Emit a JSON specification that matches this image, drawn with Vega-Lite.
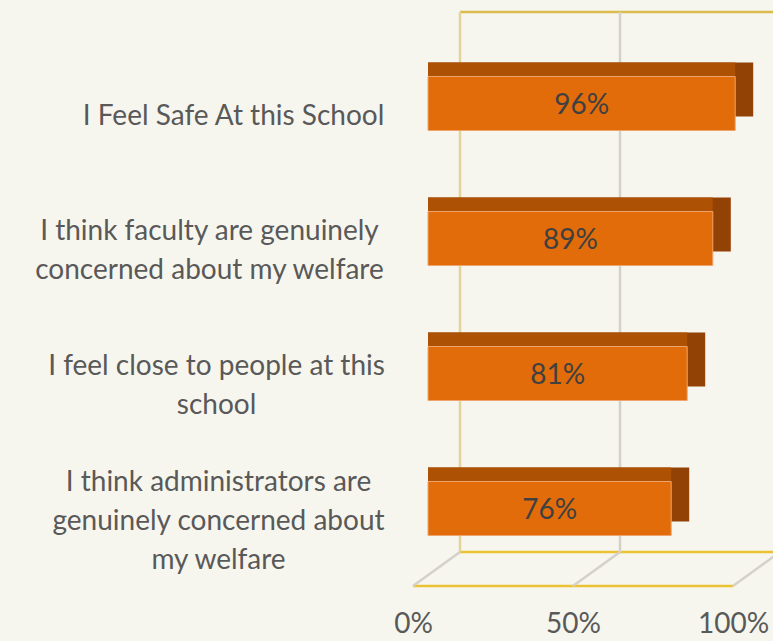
{
  "$schema": "https://vega.github.io/schema/vega-lite/v6.json",
  "width": 320,
  "height": 540,
  "autosize": "none",
  "padding": {"left": 428, "top": 36, "right": 25, "bottom": 65},
  "background": "#f7f6ee",
  "config": {"view": {"stroke": null}},
  "resolve": {"scale": {"y": "independent"}},
  "layer": [
    {
      "data": {"values": [
        {"x": 0.1, "y": 0, "x2": 1.1, "y2": 0, "kind": "gold"},
        {"x": -0.047, "y": -6.3, "x2": 0.953, "y2": -6.3, "kind": "gold"},
        {"x": 0.1, "y": 100, "x2": 1.1, "y2": 100, "kind": "top"},
        {"x": 0.1, "y": 0, "x2": 0.1, "y2": 100, "kind": "wall"},
        {"x": 0.6, "y": 0, "x2": 0.6, "y2": 100, "kind": "grid"},
        {"x": 0.1, "y": 0, "x2": -0.047, "y2": -6.3, "kind": "grid"},
        {"x": 0.6, "y": 0, "x2": 0.453, "y2": -6.3, "kind": "grid"},
        {"x": 1.1, "y": 0, "x2": 0.953, "y2": -6.3, "kind": "grid"}
      ]},
      "mark": {"type": "rule", "strokeWidth": 2.5, "clip": false},
      "encoding": {
        "x": {"field": "x", "type": "quantitative", "scale": {"domain": [0, 1], "nice": false, "zero": false},
          "axis": {"title": null, "values": [0, 0.5, 1], "format": ".0%", "ticks": false, "domain": false, "grid": false, "labelFlush": false,
            "labelFont": "Lato", "labelFontSize": 28, "labelColor": "#595959", "labelPadding": 34, "labelOffset": -15}},
        "x2": {"field": "x2"},
        "y": {"field": "y", "type": "quantitative", "scale": {"domain": [0, 100], "range": [516, -24], "nice": false, "zero": false}, "axis": null},
        "y2": {"field": "y2"},
        "color": {
          "field": "kind", "type": "nominal", "legend": null,
          "scale": {"domain": ["gold", "top", "wall", "grid"], "range": ["#ebc234", "#dcbc4c", "#e4d49c", "#d4d1c9"]}
        }
      }
    },
    {
      "data": {"values": [
        {"q": "I Feel Safe At this School", "v": 0.96},
        {"q": "I think faculty are genuinely|concerned about my welfare", "v": 0.89},
        {"q": "I feel close to people at this|school", "v": 0.81},
        {"q": "I think administrators are|genuinely concerned about|my welfare", "v": 0.76}
      ]},
      "transform": [{"calculate": "datum.v / 2", "as": "mid"}],
      "encoding": {
        "y": {
          "field": "q", "type": "nominal", "sort": null,
          "scale": {"paddingInner": 0.6, "paddingOuter": 0.3},
          "axis": {
            "title": null, "ticks": false, "domain": false, "grid": false,
            "labelExpr": "split(datum.label, '|')",
            "labelFont": "Lato", "labelFontSize": 28, "labelColor": "#595959",
            "labelLineHeight": 39,
            "labelPadding": {"expr": "indexof(datum.value, 'Safe') >= 0 ? 195 : indexof(datum.value, 'faculty') >= 0 ? 219 : indexof(datum.value, 'close') >= 0 ? 212 : 210"},
            "labelOffset": {"expr": "13 - (length(split(datum.value, '|')) - 1) * 19.5"},
            "labelLimit": 0, "labelAlign": "center"
          }
        }
      },
      "layer": [
        {
          "mark": {"type": "bar", "color": "#924204", "xOffset": 18, "yOffset": -14},
          "encoding": {
            "x": {"field": "v", "type": "quantitative", "scale": {"domain": [0, 1], "nice": false, "zero": false},
              "axis": {"title": null, "values": [0, 0.5, 1], "format": ".0%", "ticks": false, "domain": false, "grid": false, "labelFlush": false,
                "labelFont": "Lato", "labelFontSize": 28, "labelColor": "#595959", "labelPadding": 34, "labelOffset": -15}},
            "x2": {"datum": 0}
          }
        },
        {
          "mark": {"type": "bar", "color": "#ad5105", "yOffset": -14},
          "encoding": {
            "x": {"field": "v", "type": "quantitative"},
            "x2": {"datum": 0}
          }
        },
        {
          "mark": {"type": "bar", "color": "#e36c0a", "stroke": "#eea46c", "strokeWidth": 1},
          "encoding": {
            "x": {"field": "v", "type": "quantitative"},
            "x2": {"datum": 0}
          }
        },
        {
          "mark": {"type": "text", "font": "Lato", "fontSize": 28, "color": "#404040", "baseline": "middle", "align": "center", "dy": 2},
          "encoding": {
            "x": {"field": "mid", "type": "quantitative"},
            "text": {"field": "v", "type": "quantitative", "format": ".0%"}
          }
        }
      ]
    }
  ]
}
